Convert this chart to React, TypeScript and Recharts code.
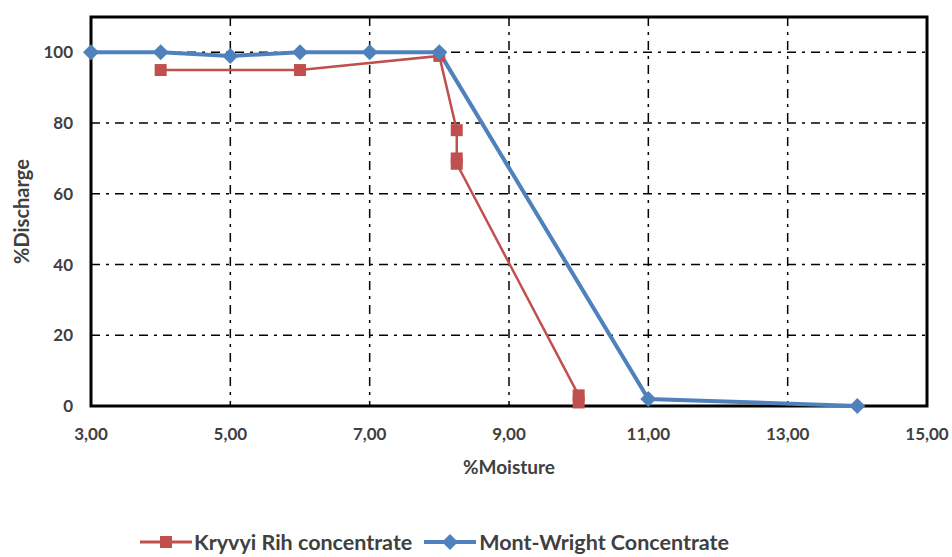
import React from 'react';
import { LineChart, Line, XAxis, YAxis, CartesianGrid, ReferenceArea } from 'recharts';

const moistureTicks = [3, 5, 7, 9, 11, 13, 15];
const dischargeTicks = [0, 20, 40, 60, 80, 100];

const kryvyiMoisture = [4, 6, 8, 8.25, 8.25, 8.25, 10, 10];
const kryvyiDischarge = [95, 95, 99, 78, 70, 68.5, 3, 1];

const montMoisture = [3, 4, 5, 6, 7, 8, 11, 14];
const montDischarge = [100, 100, 99, 100, 100, 100, 2, 0];

const seriesNames = ['Kryvyi Rih concentrate', 'Mont-Wright Concentrate'];

const RED = '#C0504D';
const BLUE = '#4F81BD';
const FONT = 'Lato, "Open Sans", sans-serif';
const AXIS_TEXT = '#404040';

const kryvyiData = kryvyiMoisture.map((x, i) => ({ x, y: kryvyiDischarge[i] }));
const montData = montMoisture.map((x, i) => ({ x, y: montDischarge[i] }));

const SquareDot = (props: any) => {
  const { cx, cy, index } = props;
  if (cx == null || cy == null) return <g key={`s${index}`} />;
  return <rect key={`s${index}`} x={cx - 6} y={cy - 6} width={12} height={12} fill={RED} />;
};

const DiamondDot = (props: any) => {
  const { cx, cy, index } = props;
  if (cx == null || cy == null) return <g key={`d${index}`} />;
  return (
    <path
      key={`d${index}`}
      d={`M${cx},${cy - 8} L${cx + 8},${cy} L${cx},${cy + 8} L${cx - 8},${cy} Z`}
      fill={BLUE}
    />
  );
};

const XLabel = ({ viewBox }: any) => (
  <text x={viewBox.x + viewBox.width / 2} y={viewBox.y + 68} textAnchor="middle"
    fill={AXIS_TEXT} fontFamily={FONT} fontWeight={700} fontSize={19}>
    %Moisture
  </text>
);

const YLabel = ({ viewBox }: any) => {
  const cx = 29;
  const cy = viewBox.y + viewBox.height / 2;
  return (
    <text x={cx} y={cy} transform={`rotate(-90 ${cx} ${cy})`} textAnchor="middle"
      fill={AXIS_TEXT} fontFamily={FONT} fontWeight={700} fontSize={20}>
      %Discharge
    </text>
  );
};

const LegendBox = () => (
  <div style={{
    position: 'absolute', top: 530, left: 140, display: 'flex', alignItems: 'center',
    fontFamily: FONT, fontSize: 21.5, fontWeight: 700, color: '#404040', whiteSpace: 'nowrap',
    lineHeight: '24px',
  }}>
    <svg width={52} height={16}>
      <line x1={0} y1={8} x2={52} y2={8} stroke={RED} strokeWidth={3} />
      <rect x={20} y={2} width={12} height={12} fill={RED} />
    </svg>
    <span style={{ marginLeft: 2, marginRight: 12 }}>{seriesNames[0]}</span>
    <svg width={52} height={16}>
      <line x1={0} y1={8} x2={52} y2={8} stroke={BLUE} strokeWidth={4} />
      <path d="M26,0 L34,8 L26,16 L18,8 Z" fill={BLUE} />
    </svg>
    <span style={{ marginLeft: 3 }}>{seriesNames[1]}</span>
  </div>
);

export default function App() {
  return (
    <div style={{ position: 'absolute', left: 0, top: 0, width: 952, height: 557, background: '#fff', overflow: 'hidden' }}>
      <LineChart width={952} height={557} margin={{ top: 17, right: 25, left: 0, bottom: 71 }}>
        <CartesianGrid stroke="#000" strokeWidth={1.5} strokeDasharray="9 6 3 6" />
        <XAxis
          type="number" dataKey="x" domain={[3, 15]} ticks={moistureTicks}
          tickFormatter={(v: number) => v.toFixed(2).replace('.', ',')}
          axisLine={false} tickLine={false} tickSize={0} tickMargin={22} height={80}
          tick={{ fill: AXIS_TEXT, fontFamily: FONT, fontWeight: 700, fontSize: 17 }}
          label={{ content: XLabel }}
          allowDuplicatedCategory={false}
        />
        <YAxis
          type="number" domain={[0, 110]} ticks={dischargeTicks} width={91}
          axisLine={false} tickLine={false} tickSize={0} tickMargin={18}
          tick={{ fill: AXIS_TEXT, fontFamily: FONT, fontWeight: 700, fontSize: 17 }}
          label={{ content: YLabel }}
        />
        <ReferenceArea x1={3} x2={15} y1={0} y2={110} fill="none" stroke="#000" strokeWidth={3} />
        <Line data={kryvyiData} dataKey="y" name={seriesNames[0]} stroke={RED} strokeWidth={2.5}
          dot={SquareDot} activeDot={false} isAnimationActive={false} />
        <Line data={montData} dataKey="y" name={seriesNames[1]} stroke={BLUE} strokeWidth={4}
          dot={DiamondDot} activeDot={false} isAnimationActive={false} />
      </LineChart>
      <LegendBox />
    </div>
  );
}
